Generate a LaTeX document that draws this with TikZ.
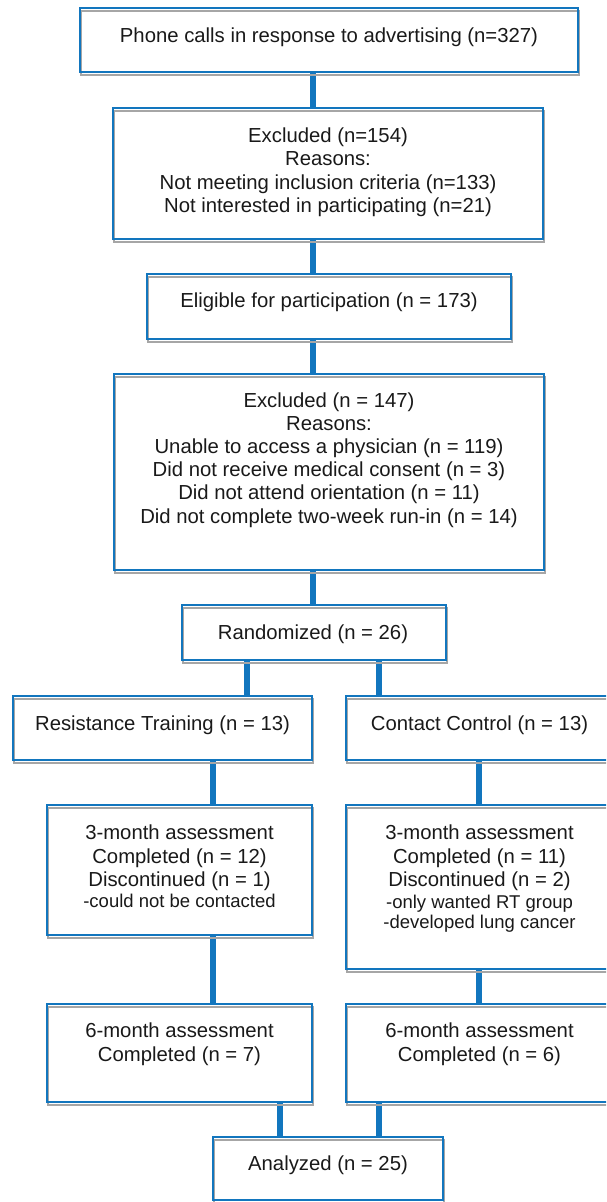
\documentclass[tikz,border=0pt]{standalone}
\usepackage{fontspec}
\setmainfont{Liberation Sans}
\usetikzlibrary{backgrounds}
\definecolor{cblue}{RGB}{18,118,190}
\tikzset{
  box/.style={rectangle, draw=cblue, line width=2.4pt, inner sep=0pt,
    preaction={draw=black!35, line width=2.2pt, transform canvas={shift={(1.3pt,-2.8pt)}}}},
  txt/.style={font=\fontsize{20.3}{23.2}\selectfont, align=center, inner sep=0pt, anchor=north, text=black!90},
  conn/.style={draw=cblue, line width=6.8pt}
}
\newcommand{\smalltxt}[1]{{\fontsize{18.5}{20}\selectfont #1}}
\begin{document}
\begin{tikzpicture}[x=1pt,y=-1pt]
\useasboundingbox (0,0) rectangle (606,1202);
\clip (0,0) rectangle (606,1202);
% boxes
\node[box, minimum width=498pt, minimum height=64pt]  (top)  at (329,40) {};
\node[box, minimum width=430pt, minimum height=131pt] (ex1)  at (328,173.5) {};
\node[box, minimum width=364pt, minimum height=65pt]  (elig) at (329,306.5) {};
\node[box, minimum width=430pt, minimum height=196pt] (ex2)  at (329,472) {};
\node[box, minimum width=264pt, minimum height=55pt]  (rand) at (314,632.5) {};
\node[box, minimum width=299pt, minimum height=64pt]  (rt)   at (162.5,728) {};
\node[box, minimum width=267pt, minimum height=64pt]  (cc)   at (479.5,728) {};
\node[box, minimum width=265pt, minimum height=130pt] (m3l)  at (179.5,870) {};
\node[box, minimum width=267pt, minimum height=164pt] (m3r)  at (479.5,887) {};
\node[box, minimum width=265pt, minimum height=98pt]  (m6l)  at (179.5,1053) {};
\node[box, minimum width=267pt, minimum height=98pt]  (m6r)  at (479.5,1053) {};
\node[box, minimum width=230pt, minimum height=63pt]  (ana)  at (328,1168.5) {};
% texts
\node[txt] (ttop)  at (329,27.2)  {Phone calls in response to advertising (n=327)};
\node[txt] (tex1)  at (328,127.7) {Excluded (n=154)\\Reasons:\\Not meeting inclusion criteria (n=133)\\Not interested in participating (n=21)};
\node[txt] (telig) at (329,292.2) {Eligible for participation (n = 173)};
\node[txt] (tex2)  at (329,392.2) {Excluded (n = 147)\\Reasons:\\Unable to access a physician (n = 119)\\Did not receive medical consent (n = 3)\\Did not attend orientation (n = 11)\\Did not complete two-week run-in (n = 14)};
\node[txt] (trand) at (313,624.7) {Randomized (n = 26)};
\node[txt] (trt)   at (162.5,715.7) {Resistance Training (n = 13)};
\node[txt] (tcc)   at (479.5,715.7) {Contact Control (n = 13)};
\node[txt] (tm3l)  at (179.5,825) {3-month assessment\\Completed (n = 12)\\Discontinued (n = 1)\\[-2pt]\smalltxt{-could not be contacted}};
\node[txt] (tm3r)  at (479.5,825) {3-month assessment\\Completed (n = 11)\\Discontinued (n = 2)\\[-0.7pt]\smalltxt{-only wanted RT group}\\[-3.2pt]\smalltxt{-developed lung cancer}};
\node[txt] (tm6l)  at (179.5,1023) {6-month assessment\\Completed (n = 7)};
\node[txt] (tm6r)  at (479.5,1023) {6-month assessment\\Completed (n = 6)};
\node[txt] (tana)  at (328,1155.7) {Analyzed (n = 25)};
% connectors
\begin{scope}[on background layer]
\draw[conn] (313,0 |- top.south)  -- (313,0 |- ex1.north);
\draw[conn] (313,0 |- ex1.south)  -- (313,0 |- elig.north);
\draw[conn] (313,0 |- elig.south) -- (313,0 |- ex2.north);
\draw[conn] (313,0 |- ex2.south)  -- (313,0 |- rand.north);
\draw[conn] (247,0 |- rand.south) -- (247,0 |- rt.north);
\draw[conn] (379,0 |- rand.south) -- (379,0 |- cc.north);
\draw[conn] (213,0 |- rt.south)   -- (213,0 |- m3l.north);
\draw[conn] (479,0 |- cc.south)   -- (479,0 |- m3r.north);
\draw[conn] (213,0 |- m3l.south)  -- (213,0 |- m6l.north);
\draw[conn] (479,0 |- m3r.south)  -- (479,0 |- m6r.north);
\draw[conn] (280,0 |- m6l.south)  -- (280,0 |- ana.north);
\draw[conn] (379,0 |- m6r.south)  -- (379,0 |- ana.north);
\end{scope}
\end{tikzpicture}
\end{document}
